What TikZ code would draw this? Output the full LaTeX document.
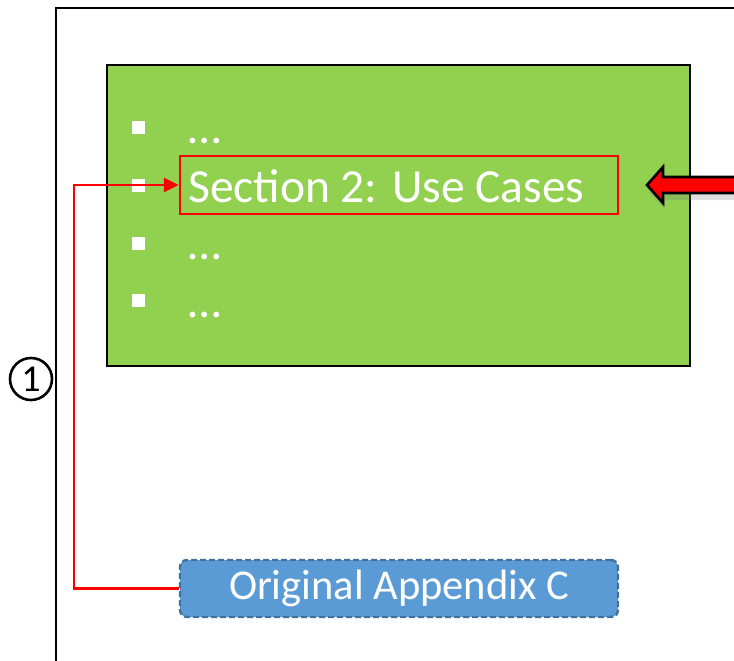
\documentclass[tikz,border=0pt]{standalone}
\usepackage{fontspec}
\setmainfont{Carlito}
\usetikzlibrary{arrows.meta,shadows}

\definecolor{leafgreen}{HTML}{92D050}
\definecolor{boxblue}{HTML}{5B9BD5}
\definecolor{edgeblue}{HTML}{41719C}

\begin{document}
\begin{tikzpicture}[x=1pt,y=-1pt,
  bul/.style={fill=white,minimum size=13pt,inner sep=0pt},
  item/.style={anchor=base west,inner sep=0pt,text=white,font=\fontsize{47.5}{47.5}\selectfont},
  redline/.style={red,line width=2.6pt}]
\useasboundingbox (0,0) rectangle (734,661);
\clip (0,0) rectangle (734,661);
% frame and the green slide
\draw[line width=2.6pt] (56,8) rectangle (780,700);
\node[draw,circle,line width=2.6pt,minimum size=42pt,inner sep=0pt,font=\fontsize{38}{38}\selectfont] (one) at (31,379) {1};
\draw[line width=2.6pt,fill=leafgreen] (107,65) rectangle (690,366);
\node[bul] (b1) at (138,127) {};
\node[bul] (b2) at (138,185) {};
\node[bul] (b3) at (138,243) {};
\node[bul] (b4) at (138,300) {};
\node[item] (dots1) at (188,143) {…};
\node[item] (sec) at (188,202) {Section 2: Use Cases};
\node[item] (dots3) at (188,259) {…};
\node[item] (dots4) at (188,317) {…};
\node[draw=red,line width=2.4pt,minimum width=438pt,minimum height=58pt] (secbox) at (399,185) {};
% pointer from the right
\draw[line width=2.6pt,fill=red,drop shadow={opacity=0.25,shadow xshift=2pt,shadow yshift=-7pt}]
  (647,185) -- (663,167) -- (663,177) -- (760,177) -- (760,193) -- (663,193) -- (663,203) -- cycle;
% appendix box and link
\node[draw=edgeblue,fill=boxblue,dashed,dash pattern=on 6pt off 3pt,line width=2.4pt,rounded corners=7pt,
  minimum width=438pt,minimum height=57pt,text=white,font=\fontsize{42.5}{42.5}\selectfont] (orig) at (399,588.5) {Original Appendix C};
\coordinate (bend) at (74,588.5);
\draw[redline,-{Triangle[length=15pt,width=14pt]}] (orig.west) -- (bend) |- (secbox.west);
\end{tikzpicture}
\end{document}
